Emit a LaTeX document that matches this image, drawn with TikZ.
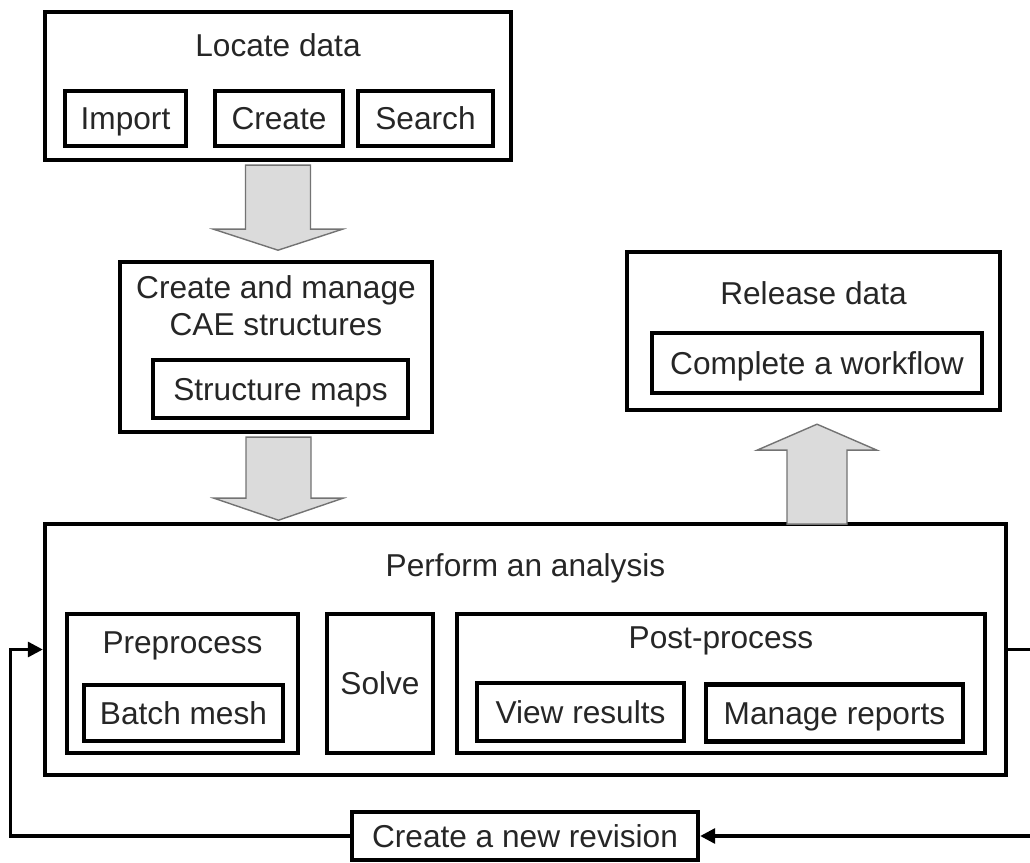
\documentclass[tikz,border=0pt]{standalone}
\usepackage{fontspec}
\setmainfont{Liberation Sans}
\usetikzlibrary{positioning}
\usetikzlibrary{calc}
\usetikzlibrary{arrows.meta}

\begin{document}
\begin{tikzpicture}[-,>={Triangle[length=3mm,width=3mm]},font=\fontsize{18}{21}\selectfont,text=black!85,
	box/.style={draw,line width=2.5pt,inner sep=0pt,text height=12.9pt,text depth=0pt},
	title/.style={inner sep=0pt,anchor=base},
	fatarrow/.style={fill=black!14,draw=black!55,line width=0.8pt,line join=miter},
	loopline/.style={line width=1.8pt}]

	\useasboundingbox (0,0) rectangle (20.6,-17.26);

	%the boxes and what sits inside them
	\begin{scope}
		\node[box,minimum width=9.32cm,minimum height=2.96cm] (locate) at (5.56,-1.72) {};
		\node[title] (locatetitle) at ($(locate.north)+(0,-0.94)$) {Locate data};
		\node[box,minimum width=2.42cm,minimum height=1.1cm] (import) at (2.51,-2.37) {Import};
		\node[box,minimum width=2.56cm,minimum height=1.1cm] (create) at (5.58,-2.37) {Create};
		\node[box,minimum width=2.7cm,minimum height=1.1cm] (search) at (8.51,-2.37) {Search};

		\node[box,minimum width=6.24cm,minimum height=3.4cm] (manage) at (5.52,-6.94) {};
		\node[inner sep=0pt,align=center] (managetitle) at (5.52,-6.12) {Create and manage\\CAE structures};
		\node[box,minimum width=5.1cm,minimum height=1.16cm] (structmaps) at (5.61,-7.78) {Structure maps};

		\node[box,minimum width=7.46cm,minimum height=3.16cm] (release) at (16.27,-6.62) {};
		\node[title] (releasetitle) at ($(release.north)+(0,-1.1)$) {Release data};
		\node[box,minimum width=6.6cm,minimum height=1.2cm] (workflow) at (16.34,-7.26) {Complete a workflow};

		\node[box,minimum width=19.22cm,minimum height=5.02cm] (analysis) at (10.51,-12.99) {};
		\node[title] (analysistitle) at ($(analysis.north)+(0,-1.1)$) {Perform an analysis};

		\node[box,minimum width=4.62cm,minimum height=2.78cm] (preprocess) at (3.65,-13.67) {};
		\node[title] (preprocesstitle) at ($(preprocess.north)+(0,-0.84)$) {Preprocess};
		\node[box,minimum width=3.98cm,minimum height=1.12cm] (batch) at (3.67,-14.26) {Batch mesh};

		\node[box,minimum width=2.12cm,minimum height=2.78cm] (solve) at (7.6,-13.67) {Solve};

		\node[box,minimum width=10.56cm,minimum height=2.78cm] (postprocess) at (14.42,-13.67) {};
		\node[title] (postprocesstitle) at ($(postprocess.north)+(0,-0.74)$) {Post-process};
		\node[box,minimum width=4.14cm,minimum height=1.16cm] (viewres) at (11.61,-14.24) {View results};
		\node[box,minimum width=5.14cm,minimum height=1.14cm] (reports) at (16.69,-14.26) {Manage reports};

		\node[box,minimum width=6.92cm,minimum height=0.96cm] (revision) at (10.5,-16.72) {Create a new revision};
	\end{scope}

	%the big grey arrows between the steps
	\begin{scope}
		\draw[fatarrow] ($(locate.south)+(-0.65,-0.06)$) -- ++(0,-1.28) -- ++(-0.64,0) -- ++(1.29,-0.42)
			-- ++(1.29,0.42) -- ++(-0.64,0) -- ++(0,1.28) -- cycle;
		\draw[fatarrow] ($(manage.south)+(-0.6,-0.06)$) -- ++(0,-1.22) -- ++(-0.64,0) -- ++(1.29,-0.44)
			-- ++(1.29,0.44) -- ++(-0.64,0) -- ++(0,1.22) -- cycle;
		\draw[fatarrow] ($(release.south)+(0.07,-0.24)$) -- ++(1.2,-0.52) -- ++(-0.6,0) -- ++(0,-1.48)
			-- ++(-1.2,0) -- ++(0,1.48) -- ++(-0.6,0) -- cycle;
	\end{scope}

	%the revision loop, which runs off the right edge
	\begin{scope}
		\coordinate (rightedge) at (20.6,0);
		\coordinate (leftturn) at ($(analysis.west)+(-0.64,0)$);
		\draw[loopline] (analysis.east) -- (analysis.east -| rightedge);
		\draw[loopline,->] (revision.east -| rightedge) -- (revision.east);
		\draw[loopline,->] (revision.west) -| (leftturn) -- (analysis.west);
	\end{scope}
\end{tikzpicture}
\end{document}
